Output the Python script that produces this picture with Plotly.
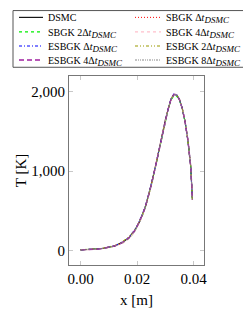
import plotly.graph_objects as go

x_m = [0.000, 0.002, 0.004, 0.006, 0.008, 0.010, 0.012, 0.014, 0.015, 0.016, 0.017,
       0.018, 0.019, 0.020, 0.021, 0.022, 0.023, 0.024, 0.025, 0.026, 0.027, 0.028,
       0.029, 0.030, 0.031, 0.032, 0.033, 0.034, 0.035, 0.036, 0.037, 0.038, 0.039, 0.0396]

T_dsmc = [10, 15, 16, 25, 28, 46, 57, 95, 104, 138, 155, 205, 240, 312, 370, 465, 555, 685, 815, 980,
          1135, 1315, 1475, 1645, 1775, 1905, 1962, 1958, 1902, 1788, 1622, 1388, 1058, 638]
T_sbgk1 = [12, 13, 18, 21, 32, 40, 63, 85, 110, 126, 166, 192, 250, 300, 380, 455, 565, 676, 825, 970,
           1145, 1305, 1485, 1636, 1785, 1897, 1967, 1962, 1898, 1792, 1618, 1392, 1062, 642]
T_sbgk2 = [11, 14, 16, 23, 29, 43, 58, 90, 100, 135, 150, 190, 235, 298, 368, 452, 552, 672, 812, 968,
           1132, 1300, 1470, 1632, 1772, 1890, 1948, 1945, 1892, 1785, 1615, 1386, 1055, 636]
T_sbgk4 = [13, 12, 15, 20, 27, 38, 55, 80, 98, 120, 150, 185, 232, 290, 362, 448, 550, 672, 814, 970,
           1138, 1308, 1478, 1640, 1782, 1902, 1966, 1961, 1901, 1791, 1621, 1391, 1061, 641]
T_esbgk1 = [12, 14, 18, 22, 31, 44, 62, 92, 110, 135, 165, 205, 252, 312, 382, 468, 570, 690, 828, 982,
            1146, 1315, 1484, 1644, 1783, 1902, 1966, 1960, 1900, 1790, 1620, 1390, 1060, 640]
T_esbgk2 = [14, 15, 19, 24, 33, 45, 64, 94, 118, 140, 170, 206, 250, 310, 378, 462, 562, 682, 820, 975,
            1140, 1310, 1480, 1640, 1780, 1900, 1964, 1959, 1899, 1789, 1619, 1389, 1059, 639]
T_esbgk4 = [11, 13, 17, 21, 30, 41, 60, 87, 106, 131, 158, 199, 244, 304, 374, 459, 559, 679, 819, 974,
            1139, 1309, 1479, 1639, 1779, 1899, 1964, 1959, 1899, 1789, 1619, 1389, 1059, 639]
T_esbgk8 = [12, 14, 17, 22, 30, 42, 60, 88, 108, 129, 161, 197, 246, 306, 376, 461, 561, 681, 821, 976,
            1141, 1311, 1481, 1641, 1781, 1901, 1965, 1960, 1900, 1790, 1620, 1390, 1060, 640]

SUB = '<sub><span style="font-size:9px"><i>DSMC</i></span></sub>'
series_names = [
    "DSMC",
    "SBGK Δ<i>t</i>" + SUB,
    "SBGK 2Δ<i>t</i>" + SUB,
    "SBGK 4Δ<i>t</i>" + SUB,
    "ESBGK Δ<i>t</i>" + SUB,
    "ESBGK 2Δ<i>t</i>" + SUB,
    "ESBGK 4Δ<i>t</i>" + SUB,
    "ESBGK 8Δ<i>t</i>" + SUB,
]
series_values = [T_dsmc, T_sbgk1, T_sbgk2, T_sbgk4, T_esbgk1, T_esbgk2, T_esbgk4, T_esbgk8]

x_ticks = [0.0, 0.02, 0.04]
x_tick_labels = ["0.00", "0.02", "0.04"]
y_ticks = [0, 1000, 2000]
y_tick_labels = ["0", "1,000", "2,000"]

styles = [
    dict(color="#000000", dash="solid", width=1.1),
    dict(color="#ff0000", dash="1px,2px", width=1.0),
    dict(color="#00ee00", dash="3px,3px", width=1.1),
    dict(color="#ffc0cb", dash="3px,3px", width=1.1),
    dict(color="#0000ff", dash="3px,2px,1px,2px", width=1.1),
    dict(color="#9a9a00", dash="3px,2px,1px,2px,1px,2px", width=1.1),
    dict(color="#a020a0", dash="5px,3px", width=1.4),
    dict(color="#888888", dash="2px,1px,1px,1px,1px,1px", width=1.0),
]

FONT = "Liberation Serif"
W, H = 251, 310
L, R, T, B = 61, 55, 68, 47
pw, ph = W - L - R, H - T - B

fig = go.Figure()
for name, vals, st in zip(series_names, series_values, styles):
    fig.add_trace(go.Scatter(x=x_m, y=vals, mode="lines", name=name, line=st, showlegend=False))


def px(xp):
    return (xp - L) / pw


def py(yp):
    return (H - B - yp) / ph


shapes = [dict(type="rect", xref="paper", yref="paper", x0=px(5), x1=px(250), y0=py(59), y1=py(0.5),
               line=dict(color="#555555", width=1), fillcolor="white", layer="above")]
annotations = []
rows = [7.5, 22.5, 37, 51.5]
cols = [(11, 35, 38), (127, 153, 156)]
for i, (name, st) in enumerate(zip(series_names, styles)):
    r, c = divmod(i, 2)
    x0, x1, xt = cols[c]
    yy = rows[r]
    shapes.append(dict(type="line", xref="paper", yref="paper", x0=px(x0), x1=px(x1), y0=py(yy), y1=py(yy),
                       line=dict(color=st["color"], dash=st["dash"], width=st["width"]), layer="above"))
    ty = yy + (1.5 if "<sub>" in name else 0)
    annotations.append(dict(xref="paper", yref="paper", x=px(xt), y=py(ty), xanchor="left", yanchor="middle",
                            text=name, showarrow=False, font=dict(family=FONT, size=10, color="#000")))

axis_common = dict(showgrid=False, zeroline=False, showline=True, linecolor="#777777", linewidth=1,
                   mirror="ticks", ticks="inside", ticklen=4, tickcolor="#c8c8c8",
                   tickfont=dict(family=FONT, size=15, color="#000"))

fig.update_layout(
    width=W, height=H,
    margin=dict(l=L, r=R, t=T, b=B),
    paper_bgcolor="white", plot_bgcolor="white",
    font=dict(family=FONT),
    shapes=shapes, annotations=annotations,
    xaxis=dict(range=[-0.0041, 0.0437], tickvals=x_ticks, ticktext=x_tick_labels,
               title=dict(text="x [m]", font=dict(family=FONT, size=15, color="#000"), standoff=8),
               **axis_common),
    yaxis=dict(range=[-179, 2195], tickvals=y_ticks, ticktext=y_tick_labels,
               title=dict(text="T [K]", font=dict(family=FONT, size=15, color="#000"), standoff=1),
               **axis_common),
)

fig.write_html("out.html")
